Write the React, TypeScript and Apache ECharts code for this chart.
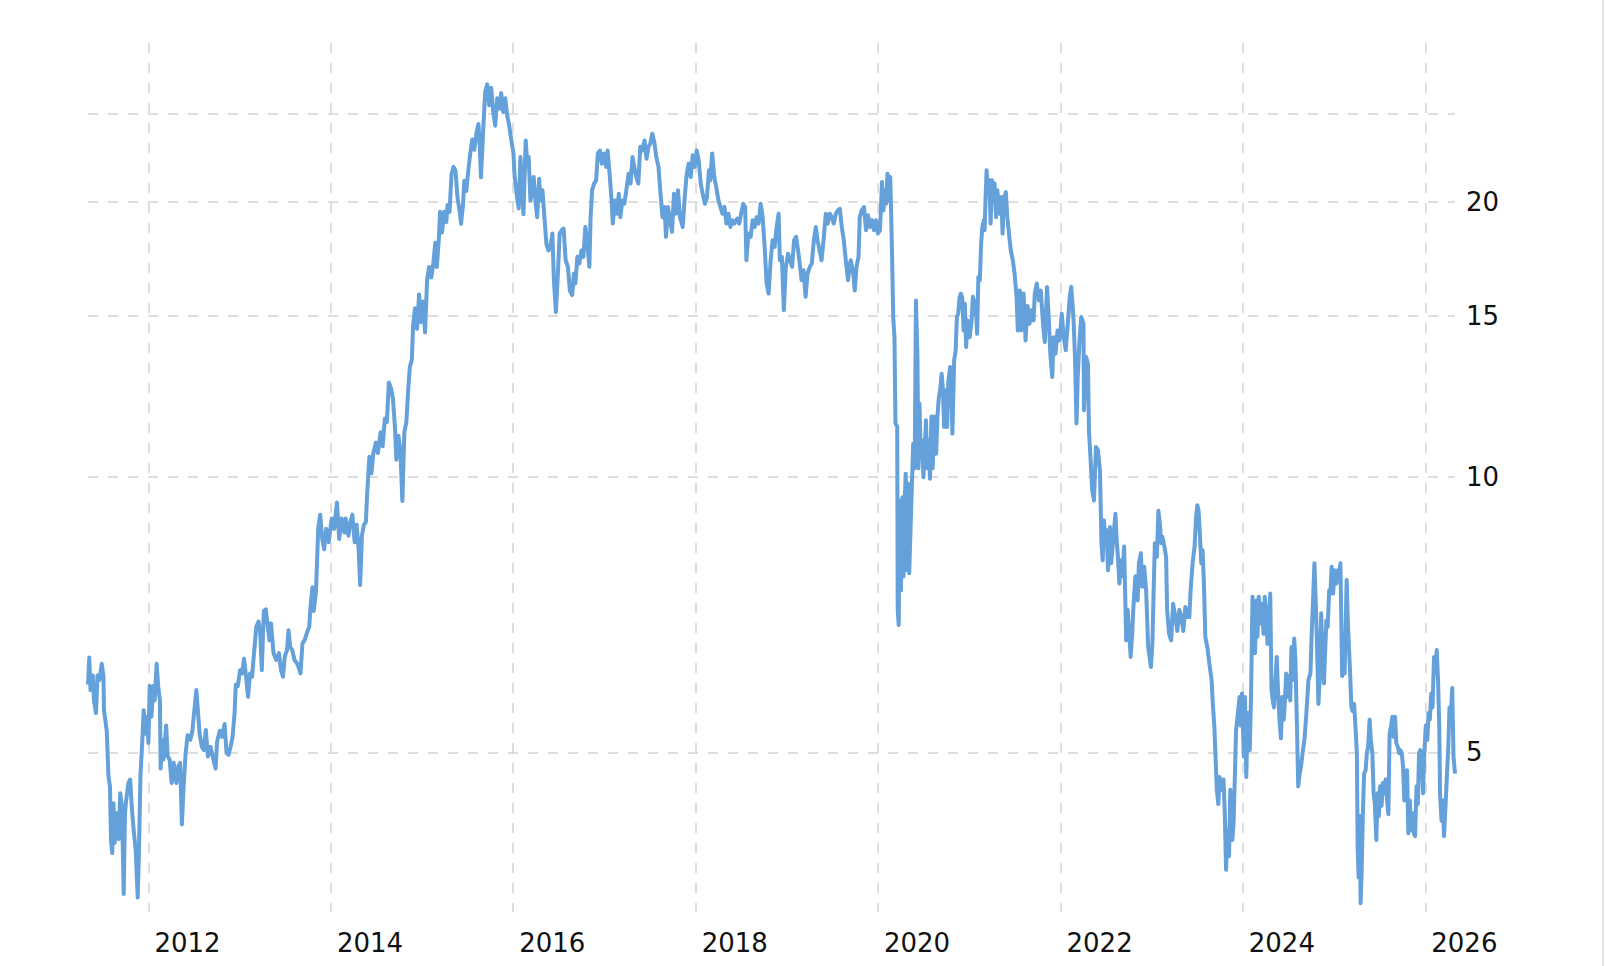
import React, { useEffect, useRef } from "react";
import * as echarts from "echarts";

// Daily closing price (log scale), grouped by period.
const prices2011to2013: [string, number][] = [
  ["2011-05-04", 5.93], ["2011-05-09", 6.35], ["2011-05-14", 5.85], ["2011-05-23", 6.07], ["2011-05-28", 5.7],
  ["2011-06-05", 5.52], ["2011-06-11", 6.07], ["2011-06-19", 6.0], ["2011-06-28", 6.25],
  ["2011-07-05", 6.05], ["2011-07-07", 5.56], ["2011-07-18", 5.28], ["2011-07-25", 4.71], ["2011-07-31", 4.59],
  ["2011-08-04", 4.02], ["2011-08-09", 3.88], ["2011-08-14", 4.4], ["2011-08-19", 3.98], ["2011-08-27", 4.29],
  ["2011-09-04", 4.02], ["2011-09-10", 4.51], ["2011-09-17", 4.37], ["2011-09-24", 3.5], ["2011-09-29", 4.29],
  ["2011-10-04", 4.43], ["2011-10-13", 4.63], ["2011-10-20", 4.67], ["2011-10-27", 4.33],
  ["2011-11-03", 4.11], ["2011-11-11", 3.91], ["2011-11-19", 3.47], ["2011-11-24", 3.88], ["2011-11-30", 4.71],
  ["2011-12-07", 5.12], ["2011-12-13", 5.56], ["2011-12-19", 5.24], ["2011-12-26", 5.47],
  ["2012-01-01", 5.12], ["2012-01-06", 5.91], ["2012-01-13", 5.47], ["2012-01-20", 5.91], ["2012-01-26", 5.7],
  ["2012-02-03", 6.25], ["2012-02-09", 5.91], ["2012-02-16", 5.7], ["2012-02-19", 4.8], ["2012-02-25", 5.16],
  ["2012-03-01", 4.91], ["2012-03-12", 5.35], ["2012-03-18", 4.95], ["2012-03-26", 4.91],
  ["2012-04-03", 4.63], ["2012-04-11", 4.87], ["2012-04-22", 4.63], ["2012-04-30", 4.83],
  ["2012-05-07", 4.87], ["2012-05-14", 4.17], ["2012-05-21", 4.59], ["2012-05-29", 4.99],
  ["2012-06-06", 5.22], ["2012-06-17", 5.16], ["2012-06-25", 5.28],
  ["2012-07-03", 5.56], ["2012-07-11", 5.85], ["2012-07-19", 5.47], ["2012-07-24", 5.24],
  ["2012-08-02", 5.07], ["2012-08-10", 5.03], ["2012-08-18", 5.29], ["2012-08-26", 4.95],
  ["2012-09-06", 5.07], ["2012-09-17", 4.91], ["2012-09-26", 4.8],
  ["2012-10-02", 5.14], ["2012-10-13", 5.28], ["2012-10-22", 5.2],
  ["2012-11-01", 5.37], ["2012-11-09", 4.99], ["2012-11-17", 4.97], ["2012-11-25", 5.07],
  ["2012-12-03", 5.2], ["2012-12-11", 5.52], ["2012-12-16", 5.93], ["2012-12-24", 5.91],
  ["2013-01-02", 6.15], ["2013-01-10", 6.1], ["2013-01-18", 6.33], ["2013-01-26", 6.05],
  ["2013-02-03", 5.75], ["2013-02-11", 6.1], ["2013-02-19", 6.05], ["2013-02-27", 6.42],
  ["2013-03-08", 6.86], ["2013-03-17", 6.95], ["2013-03-24", 6.74], ["2013-03-30", 6.15],
  ["2013-04-07", 7.14], ["2013-04-15", 7.17], ["2013-04-23", 6.86], ["2013-04-30", 6.63],
  ["2013-05-06", 6.92], ["2013-05-16", 6.42], ["2013-05-27", 6.31],
  ["2013-06-07", 6.42], ["2013-06-15", 6.15], ["2013-06-23", 6.05], ["2013-06-30", 6.36],
  ["2013-07-09", 6.47], ["2013-07-15", 6.8], ["2013-07-22", 6.52], ["2013-07-30", 6.47],
  ["2013-08-08", 6.31], ["2013-08-18", 6.26], ["2013-08-26", 6.18],
  ["2013-09-01", 6.1], ["2013-09-09", 6.58], ["2013-09-17", 6.63], ["2013-09-28", 6.77],
  ["2013-10-06", 6.86], ["2013-10-11", 7.2], ["2013-10-19", 7.58], ["2013-10-24", 7.14],
  ["2013-11-02", 7.49], ["2013-11-11", 8.78], ["2013-11-19", 9.1], ["2013-11-27", 8.56],
  ["2013-12-05", 8.34], ["2013-12-13", 8.78], ["2013-12-23", 8.49],
];

const prices2014to2015: [string, number][] = [
  ["2014-01-04", 9.01], ["2014-01-14", 8.78], ["2014-01-25", 9.38],
  ["2014-02-03", 8.56], ["2014-02-13", 9.01], ["2014-02-24", 8.7],
  ["2014-03-01", 9.01], ["2014-03-12", 8.63], ["2014-03-20", 8.93], ["2014-03-28", 9.1],
  ["2014-04-06", 8.49], ["2014-04-14", 8.87], ["2014-04-22", 8.34], ["2014-04-28", 7.62],
  ["2014-05-05", 8.63], ["2014-05-13", 8.87], ["2014-05-21", 8.93], ["2014-05-26", 9.58],
  ["2014-06-04", 10.53], ["2014-06-12", 10.1], ["2014-06-20", 10.63], ["2014-06-30", 10.91],
  ["2014-07-08", 10.63], ["2014-07-19", 11.2], ["2014-07-27", 10.81],
  ["2014-08-05", 11.59], ["2014-08-13", 11.49], ["2014-08-21", 12.69], ["2014-08-29", 12.53],
  ["2014-09-06", 12.21], ["2014-09-14", 11.39], ["2014-09-20", 10.45], ["2014-09-28", 11.1],
  ["2014-10-06", 10.72], ["2014-10-14", 9.42], ["2014-10-22", 11.2], ["2014-10-30", 11.49],
  ["2014-11-07", 12.53], ["2014-11-13", 13.2], ["2014-11-21", 13.44], ["2014-11-26", 14.65],
  ["2014-12-04", 15.3], ["2014-12-12", 14.53], ["2014-12-20", 15.84], ["2014-12-28", 14.78],
  ["2015-01-05", 15.57], ["2015-01-13", 14.4], ["2015-01-21", 16.4], ["2015-01-29", 16.98],
  ["2015-02-07", 16.54], ["2015-02-15", 17.13], ["2015-02-23", 18.05],
  ["2015-03-01", 16.98], ["2015-03-09", 18.2], ["2015-03-14", 19.51], ["2015-03-22", 18.52], ["2015-03-30", 19.51],
  ["2015-04-08", 19.01], ["2015-04-13", 19.85], ["2015-04-21", 19.51], ["2015-04-29", 21.46],
  ["2015-05-07", 21.85], ["2015-05-15", 21.63], ["2015-05-23", 20.21],
  ["2015-06-01", 19.51], ["2015-06-06", 18.93], ["2015-06-14", 19.85], ["2015-06-19", 21.1], ["2015-06-27", 20.56],
  ["2015-07-05", 21.63], ["2015-07-13", 22.61], ["2015-07-21", 23.41], ["2015-07-29", 22.81],
  ["2015-08-07", 23.81], ["2015-08-15", 24.34], ["2015-08-20", 23.0], ["2015-08-25", 21.28],
  ["2015-09-03", 24.03], ["2015-09-11", 26.43], ["2015-09-19", 26.9], ["2015-09-27", 25.52],
  ["2015-10-05", 26.66], ["2015-10-13", 25.08], ["2015-10-21", 24.24], ["2015-10-29", 25.97],
  ["2015-11-06", 25.29], ["2015-11-14", 26.31], ["2015-11-22", 25.08], ["2015-11-30", 25.97],
  ["2015-12-08", 24.87], ["2015-12-16", 24.24], ["2015-12-24", 23.41],
];

const prices2016to2019: [string, number][] = [
  ["2016-01-02", 22.61], ["2016-01-07", 21.28], ["2016-01-15", 20.39], ["2016-01-23", 19.68], ["2016-01-30", 22.4],
  ["2016-02-11", 19.4], ["2016-02-20", 23.35], ["2016-02-27", 21.85],
  ["2016-03-03", 22.4], ["2016-03-10", 20.08], ["2016-03-18", 20.6], ["2016-03-23", 21.3], ["2016-03-30", 20.08],
  ["2016-04-06", 19.25], ["2016-04-14", 21.2], ["2016-04-19", 20.08], ["2016-04-27", 20.6],
  ["2016-05-05", 19.25], ["2016-05-13", 18.0], ["2016-05-21", 17.7], ["2016-05-29", 17.86],
  ["2016-06-06", 18.47], ["2016-06-12", 16.42], ["2016-06-20", 15.16], ["2016-06-28", 16.7],
  ["2016-07-05", 18.47], ["2016-07-13", 18.63], ["2016-07-21", 18.7], ["2016-07-29", 17.27],
  ["2016-08-07", 16.99], ["2016-08-15", 16.0], ["2016-08-24", 15.82], ["2016-08-31", 16.7],
  ["2016-09-06", 16.29], ["2016-09-14", 17.42], ["2016-09-22", 17.13], ["2016-09-30", 17.7],
  ["2016-10-08", 17.42], ["2016-10-16", 18.78], ["2016-10-24", 18.0],
  ["2016-11-01", 16.99], ["2016-11-06", 19.25], ["2016-11-12", 20.6], ["2016-11-20", 20.95], ["2016-11-28", 21.12],
  ["2016-12-05", 22.6], ["2016-12-13", 22.77], ["2016-12-21", 22.03], ["2016-12-29", 22.6],
  ["2017-01-07", 21.85], ["2017-01-13", 22.77], ["2017-01-21", 21.48], ["2017-01-29", 20.08],
  ["2017-02-03", 18.94], ["2017-02-11", 20.08], ["2017-02-19", 19.42], ["2017-02-27", 20.42],
  ["2017-03-05", 19.25], ["2017-03-13", 20.08], ["2017-03-21", 19.91], ["2017-03-29", 20.6],
  ["2017-04-07", 21.48], ["2017-04-15", 20.95], ["2017-04-23", 22.4], ["2017-04-30", 21.85],
  ["2017-05-08", 21.3], ["2017-05-16", 20.95], ["2017-05-24", 22.98],
  ["2017-06-02", 22.77], ["2017-06-10", 23.35], ["2017-06-18", 22.3], ["2017-06-26", 22.98],
  ["2017-07-03", 23.17], ["2017-07-11", 23.75], ["2017-07-19", 23.26], ["2017-07-27", 22.4],
  ["2017-08-05", 21.85], ["2017-08-13", 20.42], ["2017-08-21", 19.25], ["2017-08-29", 19.75],
  ["2017-09-04", 18.32], ["2017-09-12", 19.75], ["2017-09-20", 19.1], ["2017-09-28", 18.55],
  ["2017-10-06", 20.42], ["2017-10-14", 19.42], ["2017-10-22", 20.6], ["2017-10-30", 19.25],
  ["2017-11-10", 18.78], ["2017-11-18", 20.25], ["2017-11-26", 21.48],
  ["2017-12-04", 22.03], ["2017-12-12", 21.3], ["2017-12-20", 22.5], ["2017-12-28", 21.85],
  ["2018-01-05", 22.77], ["2018-01-13", 22.2], ["2018-01-21", 20.95], ["2018-01-29", 20.42],
  ["2018-02-07", 19.91], ["2018-02-15", 20.25], ["2018-02-23", 21.66], ["2018-02-28", 21.12],
  ["2018-03-08", 22.6], ["2018-03-16", 21.3], ["2018-03-24", 20.78],
  ["2018-04-02", 20.08], ["2018-04-10", 19.75], ["2018-04-18", 19.42], ["2018-04-26", 19.75],
  ["2018-05-04", 18.94], ["2018-05-12", 19.42], ["2018-05-20", 18.78], ["2018-05-28", 19.1],
  ["2018-06-05", 18.94], ["2018-06-16", 19.18], ["2018-06-24", 18.94],
  ["2018-07-02", 19.42], ["2018-07-10", 19.91], ["2018-07-18", 19.75], ["2018-07-23", 17.27], ["2018-07-31", 18.47],
  ["2018-08-09", 18.32], ["2018-08-17", 19.1], ["2018-08-25", 18.78],
  ["2018-09-02", 19.25], ["2018-09-10", 18.94], ["2018-09-18", 19.91], ["2018-09-26", 19.25],
  ["2018-10-04", 17.86], ["2018-10-12", 16.29], ["2018-10-20", 15.88], ["2018-10-28", 17.27],
  ["2018-11-05", 18.16], ["2018-11-13", 17.86], ["2018-11-21", 18.78], ["2018-11-29", 19.42],
  ["2018-12-04", 17.27], ["2018-12-12", 17.42], ["2018-12-20", 15.23], ["2018-12-28", 16.99],
  ["2019-01-06", 17.56], ["2019-01-14", 17.27], ["2019-01-22", 16.99], ["2019-01-30", 18.16],
  ["2019-02-07", 18.32], ["2019-02-15", 17.7], ["2019-02-23", 16.99],
  ["2019-03-01", 16.42], ["2019-03-09", 16.84], ["2019-03-17", 15.75], ["2019-03-25", 16.7],
  ["2019-04-03", 16.99], ["2019-04-11", 17.13], ["2019-04-19", 18.16], ["2019-04-27", 18.78],
  ["2019-05-04", 18.16], ["2019-05-12", 17.7], ["2019-05-20", 17.27], ["2019-05-28", 18.16],
  ["2019-06-06", 19.42], ["2019-06-14", 18.94], ["2019-06-22", 19.42], ["2019-06-30", 19.25],
  ["2019-07-08", 18.94], ["2019-07-16", 19.42], ["2019-07-24", 19.58],
  ["2019-08-01", 19.66], ["2019-08-09", 18.78], ["2019-08-17", 18.16], ["2019-08-25", 17.27],
  ["2019-09-03", 16.42], ["2019-09-11", 17.13], ["2019-09-14", 17.27], ["2019-09-24", 16.7], ["2019-09-30", 16.0],
  ["2019-10-07", 16.99], ["2019-10-15", 17.42], ["2019-10-20", 19.25], ["2019-10-28", 19.58],
  ["2019-11-06", 19.75], ["2019-11-14", 18.63], ["2019-11-22", 19.34], ["2019-11-30", 18.78],
  ["2019-12-08", 19.1], ["2019-12-16", 18.63], ["2019-12-24", 19.1],
];

const prices2020to2022: [string, number][] = [
  ["2020-01-01", 18.47], ["2020-01-09", 18.63], ["2020-01-17", 21.03], ["2020-01-23", 19.58], ["2020-01-28", 20.6],
  ["2020-02-03", 19.91], ["2020-02-08", 21.48], ["2020-02-14", 20.08], ["2020-02-19", 21.3], ["2020-02-23", 19.25], ["2020-02-27", 17.13],
  ["2020-03-02", 14.97], ["2020-03-07", 14.23], ["2020-03-11", 11.45], ["2020-03-18", 11.35], ["2020-03-20", 7.16], ["2020-03-24", 6.89], ["2020-03-28", 9.43],
  ["2020-04-02", 7.52], ["2020-04-08", 9.51], ["2020-04-12", 7.79], ["2020-04-17", 9.43], ["2020-04-21", 10.09], ["2020-04-25", 7.91], ["2020-04-30", 9.84],
  ["2020-05-05", 7.85], ["2020-05-11", 8.89], ["2020-05-16", 9.84], ["2020-05-21", 10.88], ["2020-05-27", 10.23],
  ["2020-06-01", 15.61], ["2020-06-07", 13.54], ["2020-06-11", 10.23], ["2020-06-15", 12.04], ["2020-06-20", 10.7], ["2020-06-25", 10.97],
  ["2020-07-01", 10.0], ["2020-07-06", 10.7], ["2020-07-11", 11.54], ["2020-07-17", 10.23], ["2020-07-22", 10.97], ["2020-07-27", 9.96],
  ["2020-08-02", 11.65], ["2020-08-07", 10.23], ["2020-08-13", 11.65], ["2020-08-21", 10.61], ["2020-08-26", 11.65],
  ["2020-09-01", 12.24], ["2020-09-06", 12.45], ["2020-09-12", 12.98], ["2020-09-17", 12.45], ["2020-09-22", 11.35], ["2020-09-29", 12.45],
  ["2020-10-04", 11.35], ["2020-10-09", 12.76], ["2020-10-16", 13.2], ["2020-10-21", 12.45], ["2020-10-25", 11.16],
  ["2020-11-01", 13.42], ["2020-11-07", 13.77], ["2020-11-12", 14.97], ["2020-11-17", 15.09], ["2020-11-23", 15.75], ["2020-11-28", 15.88],
  ["2020-12-03", 15.75], ["2020-12-09", 14.47], ["2020-12-14", 15.48], ["2020-12-19", 13.88], ["2020-12-25", 14.84],
  ["2021-01-02", 14.23], ["2021-01-10", 14.84], ["2021-01-15", 15.75], ["2021-01-21", 15.09], ["2021-01-26", 15.61],
  ["2021-02-01", 14.35], ["2021-02-06", 16.56], ["2021-02-12", 16.42], ["2021-02-17", 18.0], ["2021-02-22", 18.78], ["2021-02-28", 19.1],
  ["2021-03-03", 18.63], ["2021-03-07", 20.25], ["2021-03-11", 21.66], ["2021-03-16", 20.42], ["2021-03-22", 21.12], ["2021-03-27", 18.94],
  ["2021-04-02", 21.12], ["2021-04-07", 20.08], ["2021-04-12", 20.95], ["2021-04-18", 19.25], ["2021-04-23", 20.6],
  ["2021-05-01", 19.42], ["2021-05-09", 20.25], ["2021-05-14", 18.47], ["2021-05-19", 20.08], ["2021-05-27", 20.51],
  ["2021-06-02", 19.25], ["2021-06-10", 18.32], ["2021-06-16", 17.7], ["2021-06-24", 17.27],
  ["2021-07-01", 16.7], ["2021-07-09", 15.75], ["2021-07-14", 14.47], ["2021-07-22", 16.0], ["2021-07-28", 14.47],
  ["2021-08-06", 15.88], ["2021-08-14", 14.11], ["2021-08-22", 15.39], ["2021-08-30", 14.72],
  ["2021-09-07", 15.23], ["2021-09-15", 14.84], ["2021-09-20", 15.88], ["2021-09-28", 16.29],
  ["2021-10-06", 15.61], ["2021-10-14", 16.0], ["2021-10-22", 14.84], ["2021-10-30", 14.05],
  ["2021-11-08", 16.15], ["2021-11-16", 14.72], ["2021-11-21", 13.65], ["2021-11-29", 12.87],
  ["2021-12-04", 14.23], ["2021-12-12", 13.65], ["2021-12-20", 14.47], ["2021-12-28", 14.11],
  ["2022-01-06", 15.09], ["2022-01-14", 14.23], ["2022-01-22", 13.77], ["2022-01-30", 14.72],
  ["2022-02-07", 15.75], ["2022-02-13", 16.15], ["2022-02-18", 15.48], ["2022-02-23", 14.72], ["2022-02-28", 13.54],
  ["2022-03-06", 11.45], ["2022-03-11", 12.87], ["2022-03-19", 14.23], ["2022-03-25", 14.97],
  ["2022-04-03", 14.72], ["2022-04-05", 11.84], ["2022-04-13", 13.54], ["2022-04-21", 13.31], ["2022-04-25", 11.23],
];

const prices2022to2026: [string, number][] = [
  ["2022-05-01", 10.52], ["2022-05-08", 9.67], ["2022-05-15", 9.43], ["2022-05-23", 10.79], ["2022-05-31", 10.7],
  ["2022-06-08", 10.18], ["2022-06-14", 8.47], ["2022-06-19", 8.11], ["2022-06-24", 8.97], ["2022-06-30", 8.47],
  ["2022-07-05", 8.75], ["2022-07-10", 7.91], ["2022-07-18", 8.82], ["2022-07-23", 8.05],
  ["2022-08-01", 8.61], ["2022-08-09", 9.12], ["2022-08-14", 8.53], ["2022-08-19", 8.18], ["2022-08-25", 7.65], ["2022-08-30", 8.11],
  ["2022-09-05", 7.79], ["2022-09-13", 8.4], ["2022-09-21", 6.63], ["2022-09-27", 7.16],
  ["2022-10-04", 6.69], ["2022-10-09", 6.36], ["2022-10-15", 6.74], ["2022-10-20", 7.21], ["2022-10-28", 7.79],
  ["2022-11-06", 7.33], ["2022-11-11", 8.05], ["2022-11-19", 8.26], ["2022-11-24", 7.59],
  ["2022-12-02", 7.98], ["2022-12-10", 7.52], ["2022-12-18", 6.52], ["2022-12-24", 6.36], ["2022-12-29", 6.2],
  ["2023-01-04", 6.57], ["2023-01-09", 7.52], ["2023-01-14", 8.47], ["2023-01-22", 8.18], ["2023-01-28", 9.19],
  ["2023-02-03", 8.89], ["2023-02-08", 8.47], ["2023-02-13", 8.61], ["2023-02-21", 8.4], ["2023-02-28", 8.18],
  ["2023-03-04", 7.16], ["2023-03-12", 6.74], ["2023-03-20", 6.63], ["2023-03-28", 7.27],
  ["2023-04-06", 7.03], ["2023-04-14", 6.79], ["2023-04-22", 7.16], ["2023-04-30", 7.03],
  ["2023-05-08", 6.79], ["2023-05-16", 7.21], ["2023-05-24", 7.03],
  ["2023-06-01", 7.03], ["2023-06-06", 7.52], ["2023-06-14", 8.05], ["2023-06-22", 8.4], ["2023-06-28", 9.05],
  ["2023-07-03", 9.32], ["2023-07-08", 9.19], ["2023-07-13", 8.68], ["2023-07-19", 8.05], ["2023-07-24", 8.32], ["2023-07-29", 7.72],
  ["2023-08-04", 6.69], ["2023-08-12", 6.52], ["2023-08-20", 6.26], ["2023-08-29", 6.0],
  ["2023-09-03", 5.65], ["2023-09-09", 5.35], ["2023-09-14", 4.95], ["2023-09-19", 4.55], ["2023-09-25", 4.39], ["2023-09-30", 4.7],
  ["2023-10-08", 4.55], ["2023-10-16", 4.67], ["2023-10-21", 4.29], ["2023-10-26", 3.72],
  ["2023-11-01", 4.11], ["2023-11-07", 3.85], ["2023-11-12", 4.55], ["2023-11-20", 4.01], ["2023-11-25", 4.18], ["2023-11-30", 4.67],
  ["2023-12-05", 5.28], ["2023-12-11", 5.47], ["2023-12-19", 5.75], ["2023-12-24", 5.35], ["2023-12-29", 5.8],
  ["2024-01-05", 4.95], ["2024-01-10", 5.75], ["2024-01-15", 4.7], ["2024-01-21", 5.52], ["2024-01-29", 5.03],
  ["2024-02-03", 5.75], ["2024-02-09", 7.4], ["2024-02-14", 7.03], ["2024-02-19", 6.42], ["2024-02-25", 7.33], ["2024-02-29", 6.69],
  ["2024-03-05", 7.4], ["2024-03-13", 6.92], ["2024-03-18", 7.27], ["2024-03-24", 6.74], ["2024-03-29", 7.4],
  ["2024-04-04", 7.03], ["2024-04-09", 6.57], ["2024-04-15", 7.03], ["2024-04-20", 7.46], ["2024-04-25", 5.86], ["2024-04-30", 5.7],
  ["2024-05-05", 5.6], ["2024-05-11", 6.0], ["2024-05-16", 6.36], ["2024-05-21", 5.86], ["2024-05-27", 5.43],
  ["2024-06-02", 5.18], ["2024-06-07", 5.75], ["2024-06-13", 5.43], ["2024-06-18", 5.7], ["2024-06-23", 6.1], ["2024-06-29", 5.75],
  ["2024-07-04", 6.06], ["2024-07-09", 5.7], ["2024-07-14", 6.52], ["2024-07-20", 6.0], ["2024-07-25", 6.66], ["2024-07-30", 6.3],
  ["2024-08-05", 5.35], ["2024-08-10", 4.59], ["2024-08-16", 4.74], ["2024-08-21", 4.82], ["2024-08-29", 5.03],
  ["2024-09-04", 5.16], ["2024-09-10", 5.43], ["2024-09-15", 5.7], ["2024-09-20", 6.0], ["2024-09-28", 6.1],
  ["2024-10-03", 6.74], ["2024-10-08", 7.27], ["2024-10-14", 8.05], ["2024-10-19", 7.33], ["2024-10-24", 6.63], ["2024-10-30", 5.65],
  ["2024-11-05", 6.1], ["2024-11-10", 7.1], ["2024-11-15", 6.42], ["2024-11-21", 5.95], ["2024-11-26", 6.47],
  ["2024-12-01", 6.97], ["2024-12-06", 6.86], ["2024-12-12", 7.52], ["2024-12-17", 7.46], ["2024-12-22", 7.98], ["2024-12-28", 7.46],
  ["2025-01-02", 7.91], ["2025-01-10", 7.65], ["2025-01-16", 7.91], ["2025-01-21", 7.79], ["2025-01-26", 8.05],
  ["2025-02-02", 6.06], ["2025-02-07", 6.63], ["2025-02-12", 6.1], ["2025-02-20", 7.72], ["2025-02-26", 6.79], ["2025-02-28", 6.63],
  ["2025-03-06", 6.1], ["2025-03-11", 5.6], ["2025-03-16", 5.55], ["2025-03-22", 5.65], ["2025-03-27", 5.35],
  ["2025-04-02", 4.99], ["2025-04-05", 3.95], ["2025-04-09", 3.65], ["2025-04-13", 4.26], ["2025-04-17", 3.42], ["2025-04-21", 3.7], ["2025-04-26", 4.29],
  ["2025-05-01", 4.74], ["2025-05-07", 4.78], ["2025-05-12", 4.99], ["2025-05-17", 5.07], ["2025-05-23", 5.43], ["2025-05-28", 5.16],
  ["2025-06-03", 4.99], ["2025-06-08", 4.51], ["2025-06-13", 4.39], ["2025-06-19", 4.01], ["2025-06-24", 4.51], ["2025-06-29", 4.26],
  ["2025-07-04", 4.59], ["2025-07-10", 4.37], ["2025-07-15", 4.63], ["2025-07-20", 4.51], ["2025-07-26", 4.67],
  ["2025-08-01", 4.43], ["2025-08-06", 4.28], ["2025-08-11", 5.24], ["2025-08-17", 5.35], ["2025-08-22", 5.47], ["2025-08-27", 5.2],
  ["2025-09-02", 5.47], ["2025-09-07", 5.12], ["2025-09-13", 5.07], ["2025-09-18", 4.99], ["2025-09-23", 5.03], ["2025-09-29", 4.99],
  ["2025-10-04", 4.82], ["2025-10-09", 4.43], ["2025-10-15", 4.74], ["2025-10-20", 4.78], ["2025-10-25", 4.08], ["2025-10-31", 4.43],
  ["2025-11-05", 4.11], ["2025-11-11", 4.29], ["2025-11-16", 4.08], ["2025-11-21", 4.05], ["2025-11-27", 4.59],
  ["2025-12-02", 4.39], ["2025-12-07", 4.99], ["2025-12-12", 5.03], ["2025-12-18", 4.87], ["2025-12-23", 4.51], ["2025-12-28", 4.99],
  ["2026-01-03", 5.35], ["2026-01-09", 5.16], ["2026-01-14", 5.52], ["2026-01-19", 5.43], ["2026-01-25", 5.8], ["2026-01-30", 5.6],
  ["2026-02-05", 6.36], ["2026-02-10", 6.1], ["2026-02-16", 6.47], ["2026-02-21", 6.0], ["2026-02-26", 5.35],
  ["2026-03-01", 4.51], ["2026-03-07", 4.21], ["2026-03-12", 4.43], ["2026-03-17", 4.05], ["2026-03-23", 4.37], ["2026-03-28", 4.67],
  ["2026-04-03", 5.07], ["2026-04-08", 5.6], ["2026-04-14", 5.52], ["2026-04-19", 5.88], ["2026-04-24", 4.95], ["2026-04-30", 4.74],
];

// Axis ticks
const xTickYears = [2012, 2014, 2016, 2018, 2020, 2022, 2024, 2026];
const yGridValues = [5, 10, 15, 20, 25];
const yLabelValues = [5, 10, 15, 20];
const yMin = 3.345;
const yMax = 29.85;

const LINE_COLOR = "#64a0da";
const GRID_COLOR = "#d4d4d4";
const TEXT_STYLE = { fontFamily: "DejaVu Sans", fontSize: 26, color: "#111" };

function toTime(s: string): number {
  const [y, m, d] = s.split("-").map(Number);
  return new Date(y, m - 1, d).getTime();
}

export default function App() {
  const ref = useRef<HTMLDivElement>(null);

  useEffect(() => {
    if (!ref.current) return;
    const chart = echarts.init(ref.current, null, { renderer: "svg" });
    const raw = [
      ...prices2011to2013,
      ...prices2014to2015,
      ...prices2016to2019,
      ...prices2020to2022,
      ...prices2022to2026,
    ];
    const data = raw.map(([d, v]) => [toTime(d), v]);
    const xTicks = xTickYears.map((y) => new Date(y, 0, 1).getTime());
    const splitLineStyle = { color: GRID_COLOR, width: 1.5, type: [10, 10] };

    chart.setOption({
      animation: false,
      backgroundColor: "#ffffff",
      grid: { left: 88, right: 151, top: 43, bottom: 54 },
      xAxis: {
        type: "value",
        min: data[0][0],
        max: data[data.length - 1][0],
        axisLine: { show: false },
        axisTick: { show: false, customValues: xTicks },
        axisLabel: {
          customValues: xTicks,
          formatter: (v: number) => String(new Date(v).getFullYear()),
          align: "left",
          padding: [0, 0, 0, 6],
          margin: 18,
          showMinLabel: true,
          showMaxLabel: true,
          ...TEXT_STYLE,
        },
        splitLine: { show: true, lineStyle: splitLineStyle },
      },
      yAxis: {
        type: "log",
        logBase: 10,
        position: "right",
        min: yMin,
        max: yMax,
        axisLine: { show: false },
        axisTick: { show: false, customValues: yGridValues },
        axisLabel: {
          customValues: yLabelValues,
          formatter: (v: number) => String(Math.round(v)),
          margin: 11,
          ...TEXT_STYLE,
        },
        splitLine: { show: true, lineStyle: splitLineStyle },
      },
      series: [
        {
          type: "line",
          data,
          showSymbol: false,
          symbol: "none",
          silent: true,
          lineStyle: { color: LINE_COLOR, width: 4, join: "round" },
          itemStyle: { color: LINE_COLOR },
        },
      ],
      graphic: [
        {
          type: "line",
          shape: { x1: 1603, y1: 0, x2: 1603, y2: 966 },
          style: { stroke: "#dcdcdc", lineWidth: 1.5 },
        },
      ],
    });

    return () => chart.dispose();
  }, []);

  return (
    <div
      ref={ref}
      style={{ position: "absolute", left: 0, top: 0, width: 1606, height: 966, background: "#ffffff" }}
    />
  );
}
